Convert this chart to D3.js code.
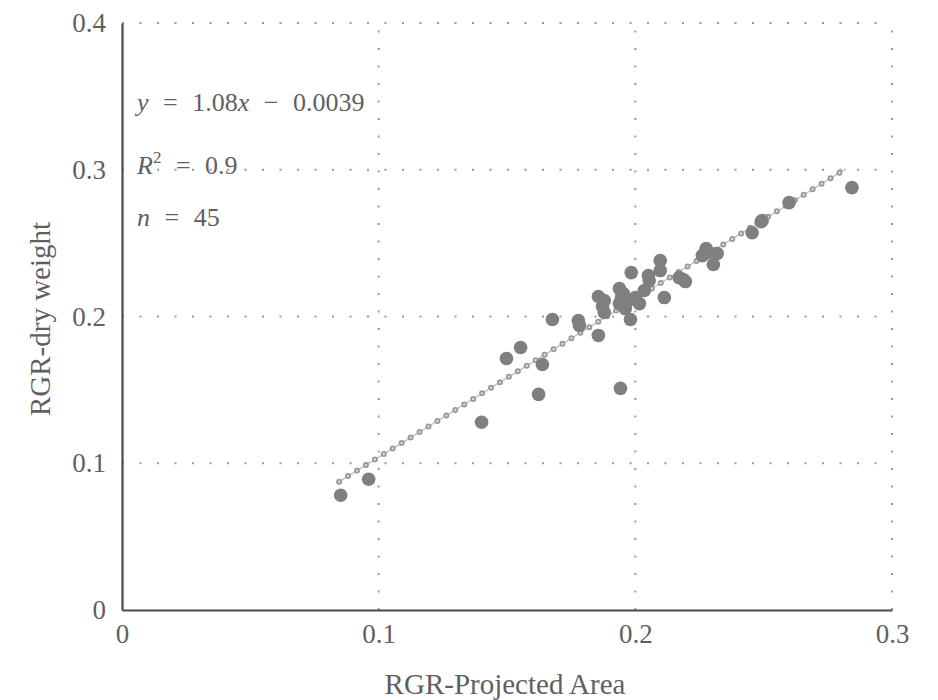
<!DOCTYPE html>
<html>
<head>
<meta charset="utf-8">
<script src="https://cdn.jsdelivr.net/npm/d3@7"></script>
<style>
  html, body { margin: 0; padding: 0; background: #fff; }
  svg { display: block; }
  svg text { font-family: "Times New Roman", "Liberation Serif", "DejaVu Serif", serif !important; }
</style>
</head>
<body>
<svg id="chart" width="938" height="700"></svg>
<script>
// ---- data ----
const rgrProjectedArea = [
  0.0852, 0.0961, 0.1401, 0.1498, 0.1553, 0.1623, 0.1638, 0.1677, 0.1778, 0.1782,
  0.1856, 0.1856, 0.1872, 0.1879, 0.1942, 0.1938, 0.1946, 0.1938, 0.1961, 0.1981,
  0.1984, 0.1969, 0.2016, 0.2035, 0.2051, 0.2097, 0.2097, 0.2113, 0.2171, 0.2195,
  0.2276, 0.2319, 0.2304, 0.2261, 0.2455, 0.2494, 0.2599, 0.2844, 0.1879, 0.2000,
  0.2280, 0.2187, 0.1953, 0.2054, 0.2490
];
const rgrDryWeight = [
  0.0782, 0.0891, 0.1279, 0.1714, 0.1789, 0.1469, 0.1673, 0.1980, 0.1973, 0.1939,
  0.1871, 0.2136, 0.2068, 0.2027, 0.1510, 0.2190, 0.2129, 0.2088, 0.2054, 0.1980,
  0.2299, 0.2102, 0.2088, 0.2177, 0.2279, 0.2381, 0.2313, 0.2129, 0.2265, 0.2238,
  0.2463, 0.2429, 0.2354, 0.2415, 0.2571, 0.2653, 0.2776, 0.2878, 0.2109, 0.2129,
  0.2435, 0.2252, 0.2156, 0.2245, 0.2646
];
const trendSlope = 1.08;
const trendIntercept = -0.0039;
const trendXRange = [0.0846, 0.282];
const xTicks = [0, 0.1, 0.2, 0.3];
const yTicks = [0, 0.1, 0.2, 0.3, 0.4];
const xTickLabels = ["0", "0.1", "0.2", "0.3"];
const yTickLabels = ["0", "0.1", "0.2", "0.3", "0.4"];
const xTitle = "RGR-Projected Area";
const yTitle = "RGR-dry weight";

// ---- layout ----
const svg = d3.select("#chart");
const x = d3.scaleLinear().domain([0, 0.3]).range([122, 892]);
const y = d3.scaleLinear().domain([0, 0.4]).range([610, 23]);
const textColor = "#5f5f5f";
const serif = "'Times New Roman', 'Liberation Serif', 'DejaVu Serif', serif";

// gridlines (dotted)
const grid = svg.append("g");
grid.selectAll("line.h").data(yTicks.slice(1)).enter().append("line")
  .attr("x1", x(0)).attr("x2", x(0.3))
  .attr("y1", d => y(d)).attr("y2", d => y(d))
  .attr("stroke", "#9a9a9a").attr("stroke-width", 2)
  .attr("stroke-dasharray", "2 15.5");
grid.selectAll("line.v").data(xTicks.slice(1)).enter().append("line")
  .attr("x1", d => x(d)).attr("x2", d => x(d))
  .attr("y1", y(0)).attr("y2", y(0.4))
  .attr("stroke", "#9a9a9a").attr("stroke-width", 2)
  .attr("stroke-dasharray", "2 15.5");

// axes
const xAxis = d3.axisBottom(x).tickValues(xTicks).tickSize(0).tickPadding(14)
  .tickFormat((d, i) => xTickLabels[i]);
const yAxis = d3.axisLeft(y).tickValues(yTicks).tickSize(0).tickPadding(16)
  .tickFormat((d, i) => yTickLabels[i]);

const gx = svg.append("g").attr("transform", `translate(0,${y(0)})`).call(xAxis);
const gy = svg.append("g").attr("transform", `translate(${x(0)},0)`).call(yAxis);
[gx, gy].forEach(g => {
  g.attr("font-family", serif).attr("font-size", 27);
  g.select(".domain").attr("stroke", "#4a4a4a").attr("stroke-width", 2.2);
  g.selectAll("text").attr("fill", textColor);
});

// trend line
const trendLine = d3.line().x(d => x(d)).y(d => y(trendSlope * d + trendIntercept));
svg.append("path").datum(trendXRange).attr("d", trendLine)
  .attr("fill", "none").attr("stroke", "#c4c4c4").attr("stroke-width", 1.5);
svg.append("path").datum(trendXRange).attr("d", trendLine)
  .attr("fill", "none").attr("stroke", "#999999").attr("stroke-width", 6)
  .attr("stroke-linecap", "round").attr("stroke-dasharray", "0 10.5");
svg.append("path").datum(trendXRange).attr("d", trendLine)
  .attr("fill", "none").attr("stroke", "#dcdcdc").attr("stroke-width", 2.4)
  .attr("stroke-linecap", "round").attr("stroke-dasharray", "0 10.5");

// points
const pts = d3.range(rgrProjectedArea.length).map(i => [rgrProjectedArea[i], rgrDryWeight[i]]);
svg.append("g").selectAll("circle").data(pts).enter().append("circle")
  .attr("cx", d => x(d[0])).attr("cy", d => y(d[1])).attr("r", 6.8)
  .attr("fill", "#7f7f7f");

// axis titles
svg.append("text").attr("x", 505).attr("y", 694)
  .attr("text-anchor", "middle").attr("font-size", 29).attr("fill", textColor)
  .attr("font-family", serif).text(xTitle);
svg.append("text").attr("transform", "translate(50,319) rotate(-90)")
  .attr("text-anchor", "middle").attr("font-size", 29).attr("fill", textColor)
  .attr("font-family", serif).text(yTitle);

// equation annotation
const ann = svg.append("g").attr("fill", textColor).attr("font-size", 26)
  .attr("font-family", serif).style("word-spacing", "8px");
const eq = ann.append("text").attr("x", 137).attr("y", 111).attr("xml:space", "preserve");
eq.append("tspan").attr("font-style", "italic").text("y");
eq.append("tspan").text(" = 1.08");
eq.append("tspan").attr("font-style", "italic").text("x");
eq.append("tspan").text(" \u2212 0.0039");
const r2 = ann.append("text").attr("x", 137).attr("y", 174).attr("xml:space", "preserve");
r2.append("tspan").attr("font-style", "italic").text("R");
r2.append("tspan").attr("font-size", 17).attr("dy", -11).text("2");
r2.append("tspan").attr("dy", 11).text(" = 0.9");
const nn = ann.append("text").attr("x", 137).attr("y", 226).attr("xml:space", "preserve");
nn.append("tspan").attr("font-style", "italic").text("n");
nn.append("tspan").text(" = 45");
</script>
</body>
</html>
